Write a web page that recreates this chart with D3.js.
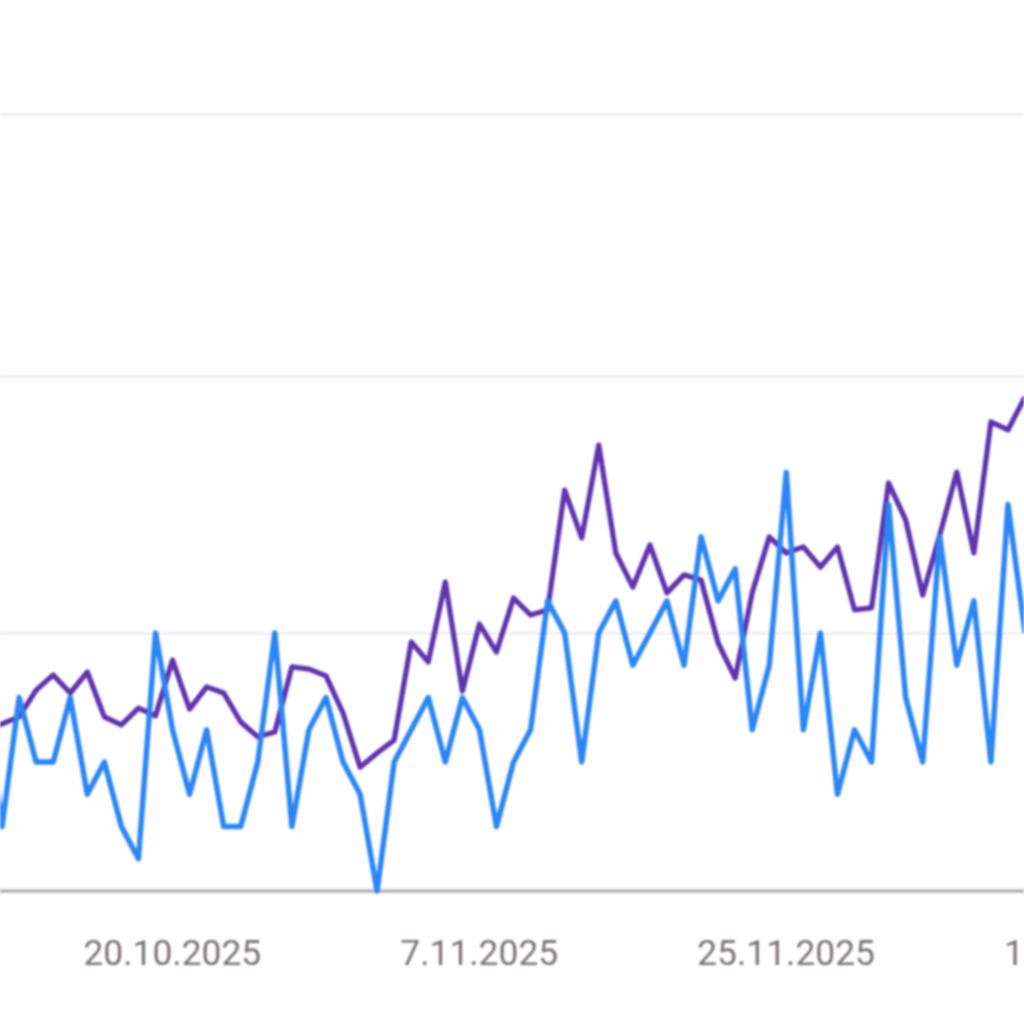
<!DOCTYPE html>
<html>
<head>
<meta charset="utf-8">
<script src="https://cdn.jsdelivr.net/npm/d3@7"></script>
<style>
html,body{margin:0;padding:0;background:#fffeff;overflow:hidden}
svg{display:block;filter:blur(0.8px)}
text{font-family:Roboto,sans-serif}
</style>
</head>
<body>
<svg id="c" width="1024" height="1024"></svg>
<script>
const startDate = "2025-10-09";
const tickDates = ["2025-10-20","2025-11-07","2025-11-25","2025-12-13"];
const gridValues = [8,16,24];
const blueSeries = [6,2,6,4,4,6,3,4,2,1,8,5,3,5,2,2,4,8,2,5,6,4,3,0,4,5,6,4,6,5,2,4,5,9,8,4,8,9,7,8,9,7,11,9,10,5,7,13,5,8,3,5,4,12,6,4,11,7,9,4,12,8];
const purpleSeries = [5.0,5.18,5.40,6.23,6.70,6.14,6.79,5.40,5.15,5.67,5.43,7.16,5.64,6.33,6.14,5.24,4.78,4.93,6.95,6.88,6.67,5.52,3.84,4.28,4.68,7.72,7.10,9.59,6.20,8.28,7.41,9.09,8.56,8.72,12.45,10.96,13.85,10.49,9.43,10.74,9.25,9.81,9.65,7.69,6.60,9.25,10.99,10.49,10.68,10.05,10.68,8.72,8.78,12.67,11.52,9.18,11.05,13.01,10.49,14.57,14.32,15.35];

const parse = d3.utcParse("%Y-%m-%d");
const t0 = parse(startDate);
const dates = blueSeries.map((_,i)=>d3.utcDay.offset(t0,i));

const x = d3.scaleUtc().domain([dates[0],dates[dates.length-1]]).range([-15,1025]);
const y = d3.scaleLinear().domain([0,8,16,24]).range([891,633,376,114]);

const svg = d3.select("#c");
svg.append("rect").attr("x",-5).attr("y",-5).attr("width",1034).attr("height",1034).attr("fill","#fffeff");

const grid = svg.append("g").attr("class","grid").call(
  d3.axisLeft(y).tickValues(gridValues).tickSize(-1064).tickFormat("")
).attr("transform","translate(1044,0)");
grid.select(".domain").remove();
grid.selectAll("line").attr("x1",-1064).attr("x2",0).attr("stroke","#eeecef").attr("stroke-width",2.4);

const xAxis = svg.append("g").attr("transform","translate(-0.7,891)").call(
  d3.axisBottom(x).tickValues(tickDates.map(parse)).tickSize(0).tickPadding(44)
    .tickFormat(d=>`${d.getUTCDate()}.${d.getUTCMonth()+1}.${d.getUTCFullYear()}`)
);
xAxis.select(".domain").remove();
xAxis.selectAll("text").attr("font-size",35.4).attr("fill","#7a7475").attr("font-family","Roboto,sans-serif").attr("dy",null).attr("y",74).attr("dominant-baseline","auto");

svg.append("line").attr("x1",-5).attr("x2",1029).attr("y1",y(0)).attr("y2",y(0)).attr("stroke","#a8a8a8").attr("stroke-width",3);

const line = d3.line().x((_,i)=>x(dates[i])).y(d=>y(d)).curve(d3.curveLinear);
svg.append("path").datum(purpleSeries).attr("d",line).attr("fill","none").attr("stroke","#5e33ae").attr("stroke-width",5.2).attr("stroke-linejoin","round");
svg.append("path").datum(blueSeries).attr("d",line).attr("fill","none").attr("stroke","#2a86f4").attr("stroke-width",5.4).attr("stroke-linejoin","round");
</script>
</body>
</html>
